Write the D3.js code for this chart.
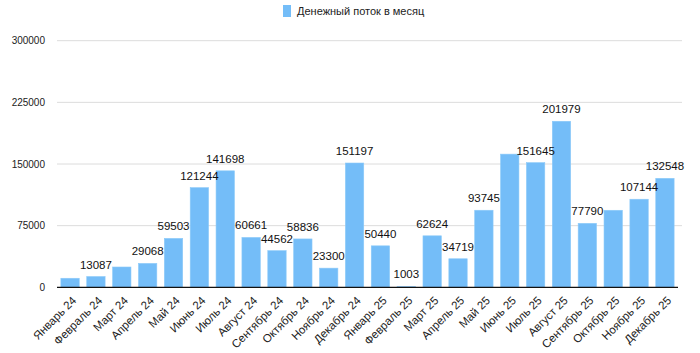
<!DOCTYPE html>
<html><head><meta charset="utf-8">
<script src="https://cdn.jsdelivr.net/npm/d3@7"></script>
<style>
html,body{margin:0;padding:0;background:#fff;}
svg{display:block;font-family:"Liberation Sans",Arial,Helvetica,sans-serif;}
</style></head>
<body><svg id="chart" width="700" height="353"></svg>
<script>
const months = ["Январь 24","Февраль 24","Март 24","Апрель 24","Май 24","Июнь 24","Июль 24","Август 24","Сентябрь 24","Октябрь 24","Ноябрь 24","Декабрь 24","Январь 25","Февраль 25","Март 25","Апрель 25","Май 25","Июнь 25","Июль 25","Август 25","Сентябрь 25","Октябрь 25","Ноябрь 25","Декабрь 25"];
const cashFlow = [11000,13087,24700,29068,59503,121244,141698,60661,44562,58836,23300,151197,50440,1003,62624,34719,93745,162000,151645,201979,77790,93700,107144,132548];
const hiddenLabels = ["Январь 24","Март 24","Июнь 25","Октябрь 25"];
const yTicks = [0,75000,150000,225000,300000];
const seriesName = "Денежный поток в месяц";

const svg = d3.select("#chart");
const m = {left:57, right:22, top:40.7, bottom:65.7};
const W = 700, H = 353;
const x = d3.scaleBand().domain(months).range([m.left, W - m.right]).paddingInner(0.29).paddingOuter(0.15);
const y = d3.scaleLinear().domain([0,300000]).range([H - m.bottom, m.top]);
const color = "#74bdf8";

// grid
svg.append("g").selectAll("line").data(yTicks.filter(d=>d>0)).join("line")
  .attr("x1", m.left).attr("x2", W - m.right + 4)
  .attr("y1", d=>y(d)).attr("y2", d=>y(d))
  .attr("stroke","#dcdcdc").attr("stroke-width",1);

// y labels
const yAxis = d3.axisLeft(y).tickValues(yTicks).tickSize(0).tickPadding(12).tickFormat(d3.format("d"));
const gy = svg.append("g").attr("transform",`translate(${m.left},0)`).call(yAxis);
gy.select(".domain").remove();
gy.selectAll("text").attr("font-size",10).attr("fill","#222").attr("font-family","inherit");

// bars
svg.append("g").selectAll("rect").data(months).join("rect")
  .attr("x", d=>x(d)).attr("width", x.bandwidth())
  .attr("y", (d,i)=>y(cashFlow[i])).attr("height", (d,i)=>y(0)-y(cashFlow[i]))
  .attr("fill", color).attr("stroke","#8ccaf9").attr("stroke-width",0.6);

// value labels
svg.append("g").selectAll("text").data(months.filter(d=>!hiddenLabels.includes(d))).join("text")
  .attr("x", d=>x(d)+x.bandwidth()/2)
  .attr("y", d=>y(cashFlow[months.indexOf(d)]) - 8)
  .attr("text-anchor","middle").attr("font-size",11.5).attr("fill","#111")
  .text(d=>cashFlow[months.indexOf(d)]);

// x axis
const xAxis = d3.axisBottom(x).tickSize(0).tickPadding(0);
const gx = svg.append("g").attr("transform",`translate(0,${y(0)})`).call(xAxis);
gx.select(".domain").attr("stroke","#111").attr("stroke-width",1.2).attr("d",`M${m.left},0H${W-m.right}`);
gx.selectAll("text").attr("font-size",11.5).attr("fill","#222").attr("font-family","inherit")
  .attr("text-anchor","end").attr("dy",null).attr("y",0)
  .attr("transform","translate(7,14) rotate(-45)");

// legend
const lg = svg.append("g").attr("transform","translate(283,5)");
lg.append("rect").attr("width",8).attr("height",12).attr("fill",color);
lg.append("text").attr("x",14).attr("y",10).attr("font-size",11).attr("fill","#222").text(seriesName);
</script></body></html>
